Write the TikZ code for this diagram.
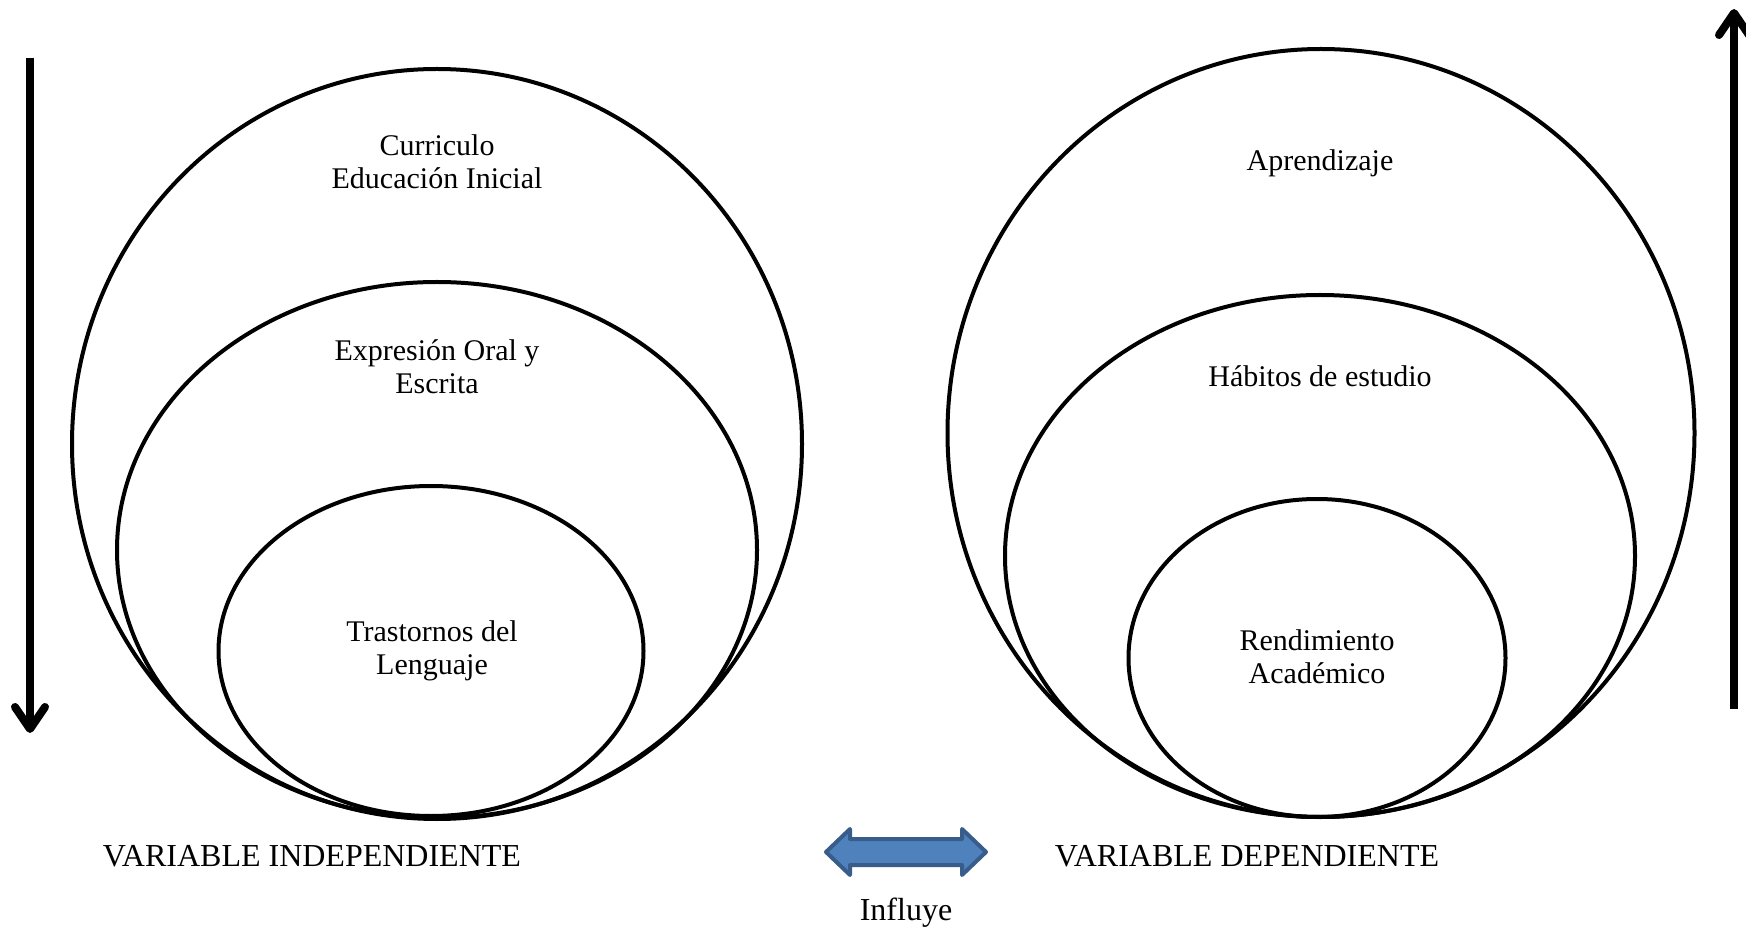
\documentclass[tikz,border=0pt]{standalone}
\usepackage{fontspec}
\setmainfont{Liberation Serif}
\usepackage{xcolor}
\usepackage{tikz}
\usetikzlibrary{positioning}
\usetikzlibrary{arrows.meta,shapes}
\usetikzlibrary{shapes.geometric}
\definecolor{flechafill}{RGB}{79,129,189}
\definecolor{flechadraw}{RGB}{56,93,138}
\def\u{0.5pt}
\tikzstyle{ring}=[ellipse,draw=black,line width=2pt,inner sep=0pt]
\tikzstyle{txt}=[align=center,font=\fontsize{15}{16.5}\selectfont]
\tikzstyle{lbl}=[font=\fontsize{16}{19}\selectfont]
\tikzstyle{bar} = [draw,line width=4pt,-{Straight Barb[length=11pt,width=15pt,line cap=round,line join=round]}]
\tikzset{influ/.style={fill=flechafill,draw=flechadraw,line width=2pt,line join=round}}

\begin{document}
\begin{tikzpicture}[x=\u,y=-\u]

	\useasboundingbox (0,0) rectangle (1746,930);

%variable independiente
    \foreach \pos/\name/\w/\h in {{(437,444)/LO/730/750}, {(437,550)/LM/640/536}, {(431,651)/LI/425/330}}
        \node[ring,minimum width=\w*\u,minimum height=\h*\u] (\name) at \pos {};
%variable dependiente
    \foreach \pos/\name/\w/\h in {{(1321,433)/RO/747/768}, {(1320,556)/RM/630/522}, {(1317,658)/RI/377/318}}
        \node[ring,minimum width=\w*\u,minimum height=\h*\u] (\name) at \pos {};

%text
    \foreach \pos/\name/\label in {{(437,162)/LOt/Curriculo\\Educación Inicial}, {(437,367)/LMt/Expresión Oral y\\Escrita}, {(432,651)/LIt/Trastornos del\\Lenguaje}}
        \node[txt] (\name) at \pos {\label};
    \foreach \pos/\name/\label in {{(1320,163)/ROt/Aprendizaje}, {(1320,376)/RMt/Hábitos de estudio}, {(1317,657)/RIt/Rendimiento\\Académico}}
        \node[txt] (\name) at \pos {\label};

%arrows
    \coordinate (vi) at (30,58);
    \coordinate (vi end) at (30,733);
    \coordinate (vd) at (1734,709);
    \coordinate (vd end) at (1734,9);
    \path[bar] (vi) -- (vi end);
    \path[bar] (vd) -- (vd end);

%influye
    \coordinate (mid) at (906,852);
    \path[influ] (mid) ++(-80,0) -- ++(24,-23) -- ++(0,10) -- ++(112,0) -- ++(0,-10)
        -- ++(24,23) -- ++(-24,23) -- ++(0,-10) -- ++(-112,0) -- ++(0,10) -- cycle;

%label
    \node[lbl] (indep) at (312,856) {VARIABLE INDEPENDIENTE};
    \node[lbl] (dep) at (1247,856) {VARIABLE DEPENDIENTE};
    \node[lbl] (influye) at (906,913) {Influye};

\end{tikzpicture}
\end{document}
